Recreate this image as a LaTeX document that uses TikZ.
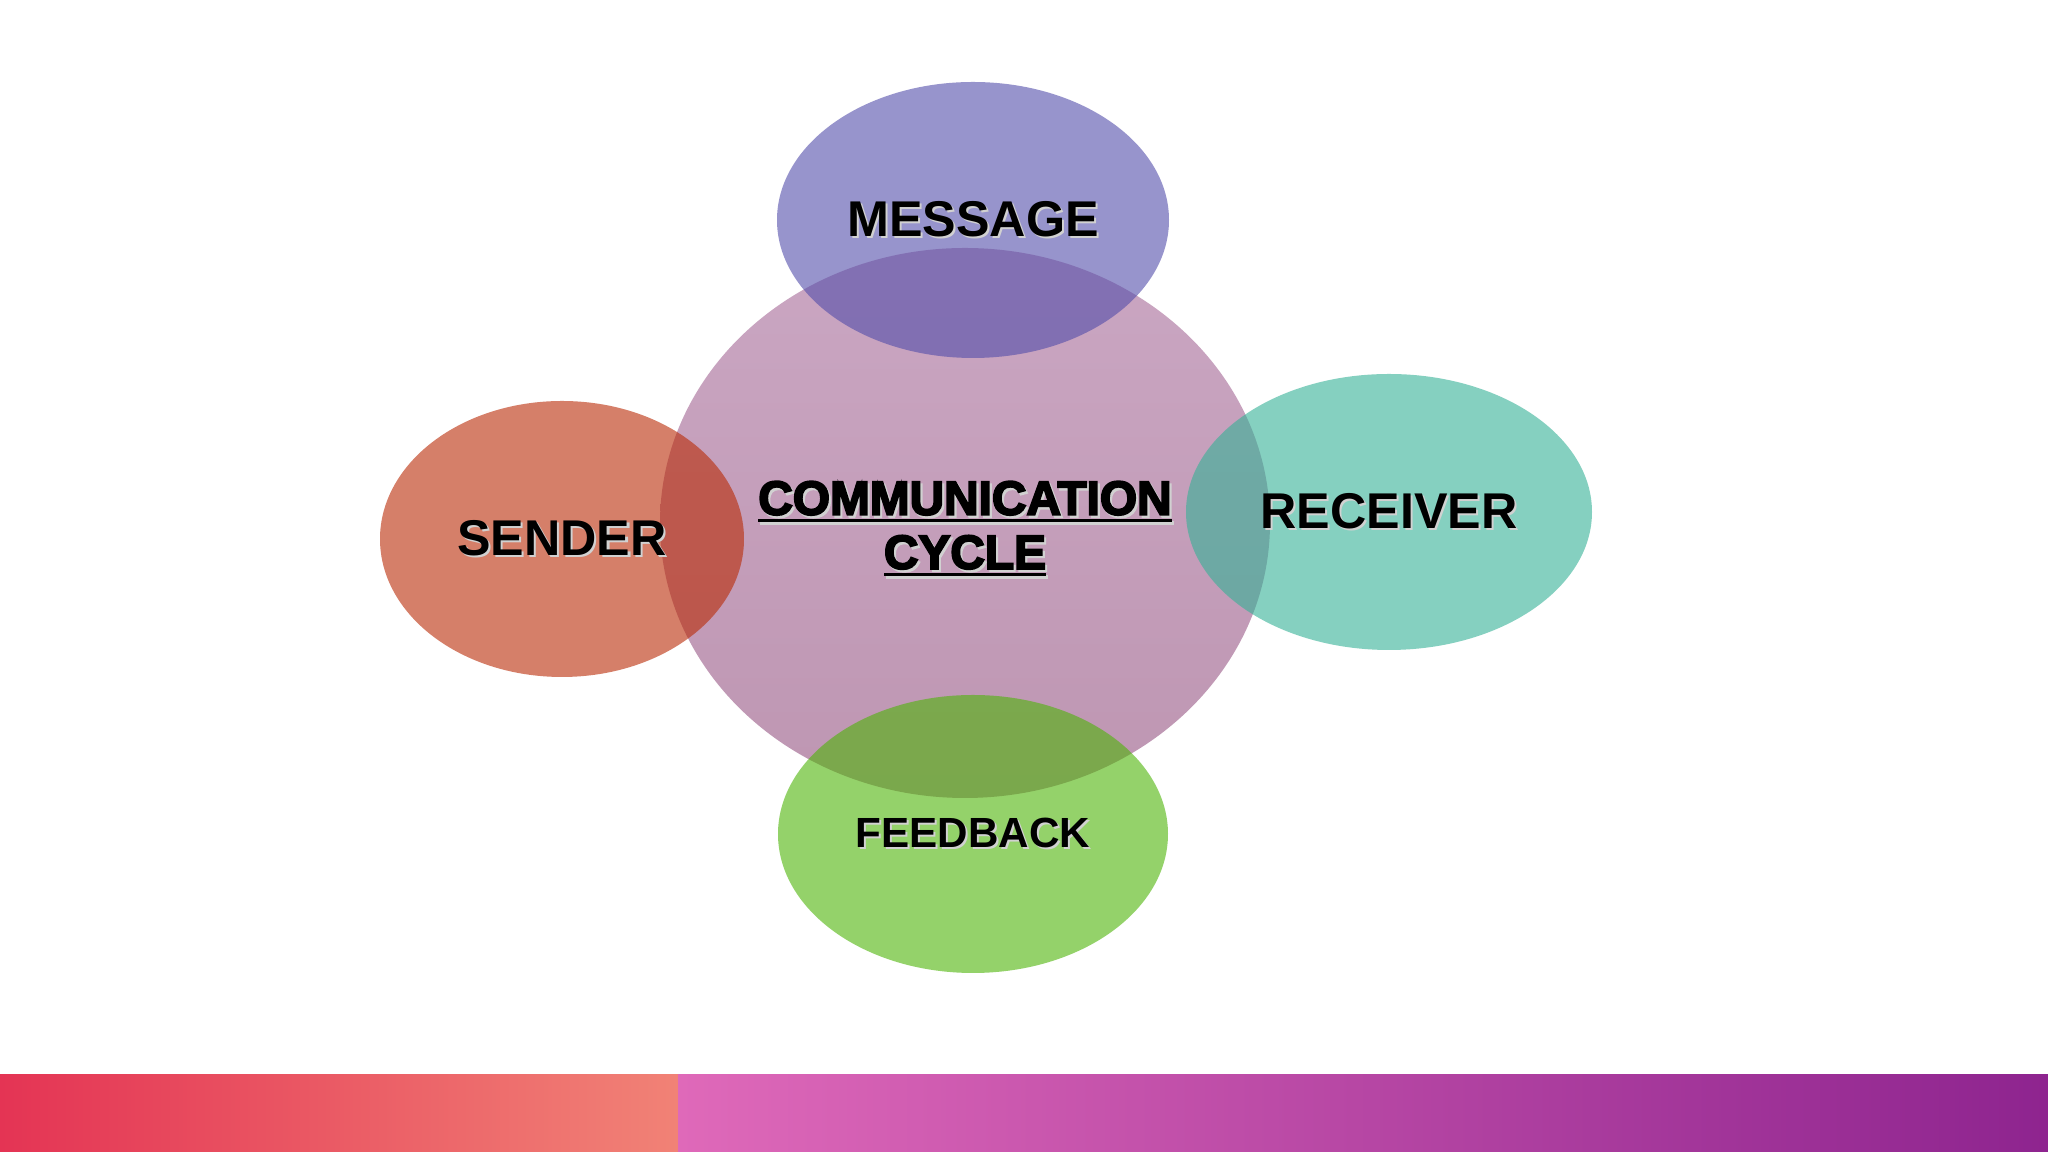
\documentclass[tikz,border=0pt]{standalone}
\usepackage{fontspec}
\setmainfont{Liberation Sans}
\newfontfamily\heavyfont{Liberation Sans Bold}[FakeBold=4]
\usetikzlibrary{shapes.geometric}

\definecolor{msgblue}{RGB}{83,77,170}
\definecolor{sendred}{RGB}{185,42,5}
\definecolor{recvteal}{RGB}{53,177,150}
\definecolor{feedgreen}{RGB}{78,180,8}
\definecolor{cycletop}{RGB}{202,166,194}
\definecolor{cyclebot}{RGB}{190,150,178}
\definecolor{bandred}{RGB}{228,52,84}
\definecolor{bandsalmon}{RGB}{241,130,118}
\definecolor{bandpink}{RGB}{223,105,185}
\definecolor{bandpurple}{RGB}{142,36,143}

\newcommand{\shadowtext}[1]{\makebox[0pt][l]{\hspace{0.6pt}\raisebox{-0.7pt}{\textcolor{black!18}{#1}}}#1}
\newcommand{\thickul}[1]{\vtop{\hbox{#1}\kern1.0pt\hrule height 1.0pt}}

\tikzset{
  bubble/.style={ellipse, draw=none, fill opacity=0.6, text opacity=1, inner sep=0pt,
    font=\bfseries\fontsize{14.3}{17}\selectfont},
}

\begin{document}
\begin{tikzpicture}
\useasboundingbox (0,0) rectangle (20.48,11.52);
\fill[white] (0,0) rectangle (20.48,11.52);

% bottom band
\shade[left color=bandred, right color=bandsalmon] (0,0) rectangle (6.78,0.77);
\shade[left color=bandpink, right color=bandpurple] (6.78,0) rectangle (20.48,0.77);

% centre
\node[ellipse, inner sep=0pt, minimum width=6.10cm, minimum height=5.50cm,
  top color=cycletop, bottom color=cyclebot, align=center,
  font=\heavyfont\fontsize{13.6}{15.4}\selectfont] (cycle) at (9.65,6.29)
  {\rule{0pt}{13.5pt}\shadowtext{\thickul{COMMUNICATION}}\\ \shadowtext{\thickul{CYCLE}}};

% around it
\node[bubble, fill=msgblue, minimum width=3.92cm, minimum height=2.76cm] (message) at (9.73,9.32) {\shadowtext{MESSAGE}};
\node[bubble, fill=sendred, minimum width=3.64cm, minimum height=2.76cm] (sender) at (5.62,6.13) {\shadowtext{SENDER}};
\node[bubble, fill=recvteal, minimum width=4.06cm, minimum height=2.76cm] (receiver) at (13.89,6.40) {\shadowtext{RECEIVER}};
\node[bubble, fill=feedgreen, minimum width=3.90cm, minimum height=2.78cm,
  font=\bfseries\fontsize{12}{14}\selectfont] (feedback) at (9.73,3.18) {\shadowtext{FEEDBACK}};
\end{tikzpicture}
\end{document}
